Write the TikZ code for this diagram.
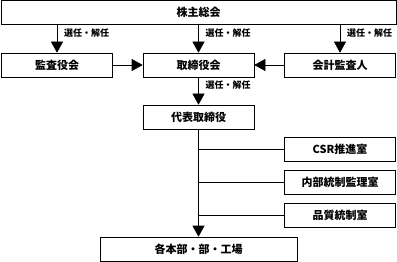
\documentclass[tikz,border=0pt]{standalone}
\usepackage{fontspec}
\setmainfont{Noto Sans CJK JP}
\usetikzlibrary{arrows.meta, positioning, calc}

\begin{document}
\begin{tikzpicture}[
    x=1pt, y=-1pt, font=\bfseries,
    box/.style={draw=black, line width=0.6pt, fill=white, inner sep=0pt,
                minimum height=24pt, font=\fontsize{11}{12}\selectfont\bfseries},
    wide/.style={box, minimum width=111pt},
    arr/.style={-{Triangle[length=11pt, width=12pt]}, line width=0.6pt, draw=black},
    link/.style={line width=0.6pt, draw=black},
    lbl/.style={anchor=west, inner sep=0pt, font=\fontsize{9}{10}\selectfont\bfseries}
]
\useasboundingbox (0,0) rectangle (397,262);

% --- Top: general meeting of shareholders
\node[box, minimum width=395pt] (agm)     at (198.5, 12)  {株主総会};

% --- Second row
\node[wide]  (kansa)   at (57   , 65)  {監査役会};
\node[wide]  (board)   at (198.5, 65)  {取締役会};
\node[wide]  (auditor) at (340  , 65)  {会計監査人};

% --- Executive and staff offices
\node[wide]  (rep)     at (198.5, 117) {代表取締役};
\node[wide]  (csr)     at (340  , 149.5) {CSR推進室};
\node[wide]  (naibu)   at (340  , 182.5) {内部統制監理室};
\node[wide]  (qual)    at (340  , 215) {品質統制室};
\node[box, minimum width=197pt] (depts) at (198.5, 249) {各本部・部・工場};

% --- Appointment / dismissal arrows
\draw[arr] (agm.south -| kansa)   -- (kansa);
\draw[arr] (agm.south -| board)   -- (board);
\draw[arr] (agm.south -| auditor) -- (auditor);
\draw[arr] (board) -- (rep);

\node[lbl] at ($(kansa.north)+(7,-20)$)   {選任・解任};
\node[lbl] at ($(board.north)+(7,-20)$)   {選任・解任};
\node[lbl] at ($(auditor.north)+(7,-20)$) {選任・解任};
\node[lbl] at ($(board.south)+(7,8)$)     {選任・解任};

% --- Audit bodies -> board
\draw[arr] (kansa)   -- (board);
\draw[arr] (auditor) -- (board);

% --- Representative -> departments, with staff offices branching off
\draw[arr] (rep) -- (depts);
\draw[link] (csr.west)   -- (csr.west -| rep);
\draw[link] (naibu.west) -- (naibu.west -| rep);
\draw[link] (qual.west)  -- (qual.west -| rep);

\end{tikzpicture}
\end{document}
